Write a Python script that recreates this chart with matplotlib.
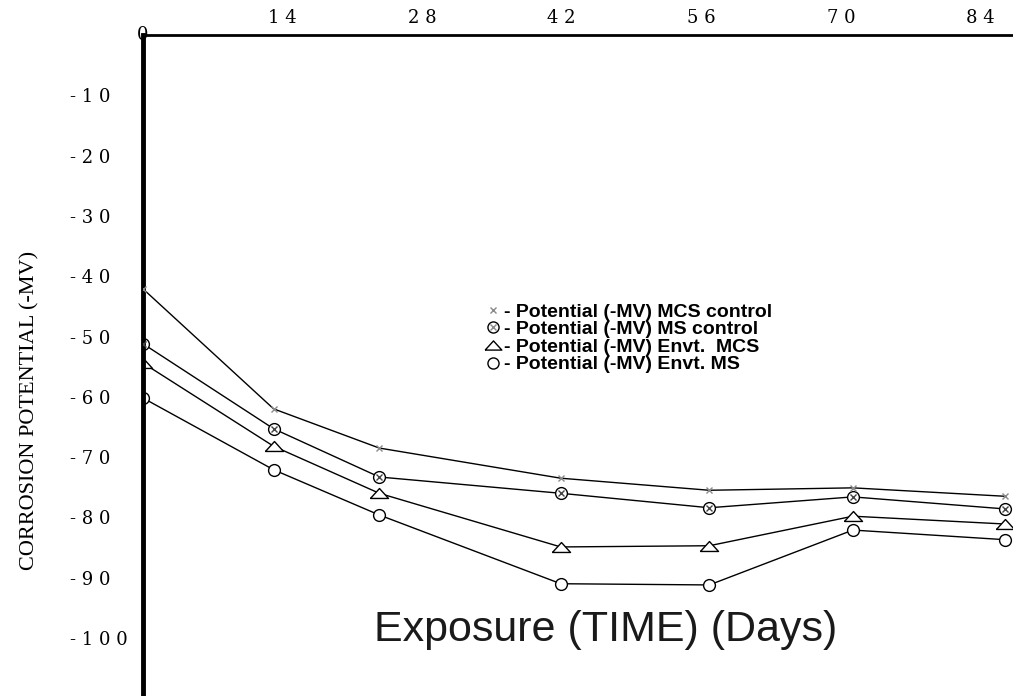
import matplotlib
matplotlib.use("Agg")
import matplotlib.pyplot as plt
from matplotlib.lines import Line2D

# values (days, potential in -mV)
days = [0, 13.1, 23.7, 41.9, 56.8, 71.2, 86.5]
mcs_control = [-42.1, -62.0, -68.5, -73.5, -75.5, -75.1, -76.5]
ms_control = [-51.2, -65.3, -73.3, -76.0, -78.4, -76.6, -78.6]
envt_mcs = [-54.4, -68.2, -76.0, -84.9, -84.7, -79.8, -81.1]
envt_ms = [-60.2, -72.1, -79.6, -91.0, -91.2, -82.1, -83.7]

x_ticks = [14, 28, 42, 56, 70, 84]
y_ticks = [-10, -20, -30, -40, -50, -60, -70, -80, -90, -100]
legend_labels = [
    "- Potential (-MV) MCS control",
    "- Potential (-MV) MS control",
    "- Potential (-MV) Envt.  MCS",
    "- Potential (-MV) Envt. MS",
]

W, H = 1013, 696
fig = plt.figure(figsize=(W / 100, H / 100), dpi=100)
ax = fig.add_axes([143 / W, 0, 870 / W, 661 / H])
ax.set_xlim(0, 870 / 9.97)
ax.set_ylim(-661 / 6.03, 0)

tri = [(-1, -0.55), (1, -0.55), (0, 0.55), (-1, -0.55)]
grey = "#8a8a8a"
lw = 1.0

ax.plot(days, mcs_control, color="black", lw=lw, zorder=2)
ax.plot(days, mcs_control, ls="none", marker="x", ms=5, mew=1, color=grey, zorder=3)
ax.plot(days, ms_control, color="black", lw=lw, marker="o", ms=8.5,
        mfc="white", mec="black", mew=1, zorder=2)
ax.plot(days, ms_control, ls="none", marker="x", ms=5, mew=1, color="#444444", zorder=3)
ax.plot(days, envt_mcs, color="black", lw=lw, marker=tri, ms=13,
        mfc="white", mec="black", mew=1, zorder=2)
ax.plot(days, envt_ms, color="black", lw=lw, marker="o", ms=8.5,
        mfc="white", mec="black", mew=1, zorder=2)

# axes look
for side in ["right", "bottom"]:
    ax.spines[side].set_visible(False)
ax.spines["left"].set_linewidth(3.5)
ax.spines["top"].set_linewidth(2)

tick_font = dict(family="DejaVu Serif", size=13)
ax.xaxis.tick_top()
ax.set_xticks(x_ticks, [" ".join(str(t)) for t in x_ticks], **tick_font)
ax.set_yticks(y_ticks, ["- " + " ".join(str(-t)) for t in y_ticks], **tick_font)
for lbl in ax.get_yticklabels():
    lbl.set_ha("left")
ax.tick_params(axis="x", length=0, pad=6)
ax.tick_params(axis="y", length=0, pad=(143 - 70) / 1.389)
ax.text(0, 0, "0", ha="center", va="center", clip_on=False, zorder=5, **tick_font)

fig.text(30 / W, 1 - 410 / H, "CORROSION POTENTIAL (-MV)", rotation=90,
         ha="center", va="center", family="Liberation Serif", fontsize=16)
fig.text(606 / W, 1 - 630 / H, "Exposure (TIME) (Days)", ha="center",
         va="center", family="Liberation Sans", fontsize=31, color="#1a1a1a")

h_x = Line2D([], [], ls="none", marker="x", ms=5, mew=1, color=grey)
h_o = Line2D([], [], ls="none", marker="o", ms=8, mfc="white", mec="black", mew=1)
h_t = Line2D([], [], ls="none", marker=tri, ms=12, mfc="white", mec="black", mew=1)
fig.legend([h_x, (h_o, h_x), h_t, h_o], legend_labels, loc="upper left",
           bbox_to_anchor=(485 / W, 1 - 303 / H), frameon=False,
           handlelength=0.8, handletextpad=0.2, labelspacing=0.0,
           borderpad=0, borderaxespad=0,
           prop=dict(family="Liberation Sans", weight="bold", size=14))

fig.savefig("out.png", dpi=100)
